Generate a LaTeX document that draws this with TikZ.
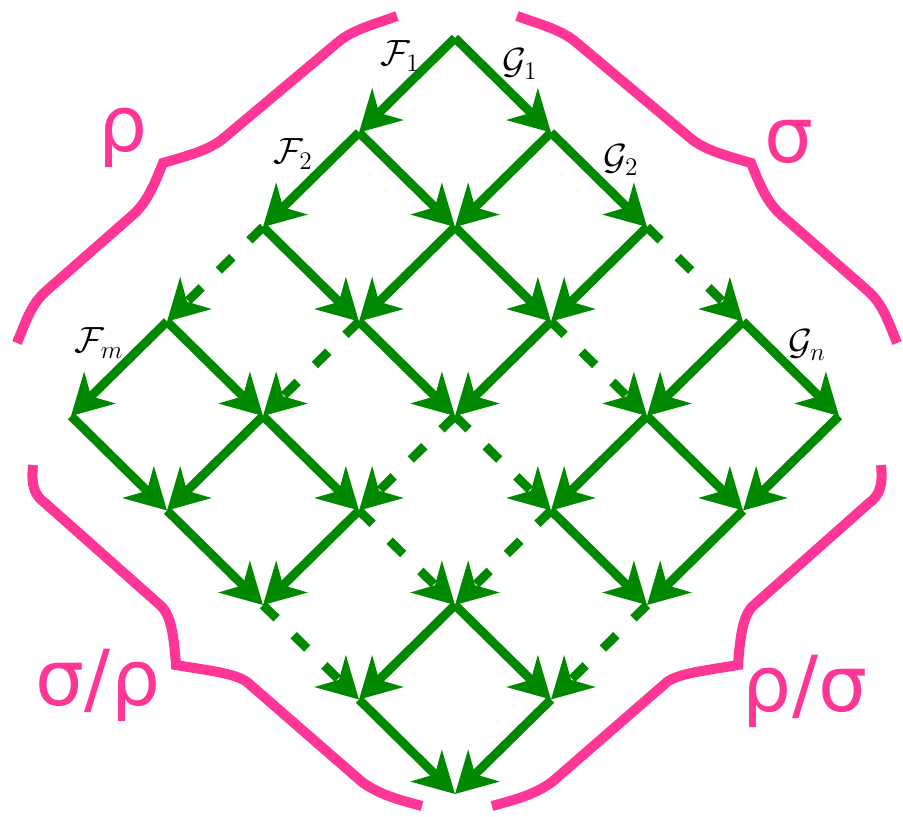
\documentclass[tikz,border=0pt]{standalone}
\usepackage{fontspec}
\newfontfamily\greekfont{DejaVu Sans}
\usetikzlibrary{arrows.meta}
\definecolor{lattice}{RGB}{0,137,0}
\definecolor{bracepink}{RGB}{255,54,150}

\begin{document}
\begin{tikzpicture}[x=0.02cm, y=-0.02cm,
    arr/.style={-{Stealth[length=22.8pt, width=25pt, inset=6.8pt]}, line width=5.1pt, draw=lattice},
    darr/.style={arr, dash pattern=on 10.8pt off 13.7pt},
    brc/.style={draw=bracepink, line width=5.7pt, line join=miter},
    mlbl/.style={font=\fontsize{20}{22}\selectfont, inner sep=0pt},
    glbl/.style={text=bracepink, font=\greekfont\fontsize{44}{48}\selectfont, inner sep=0pt}
  ]
  \useasboundingbox (0,0) rectangle (903,816);

  % lattice points
  \foreach \i in {0,...,4}
    \foreach \j in {0,...,4}
      \coordinate (v\i\j) at ({455-96*\i+96*\j}, {38+94.5*(\i+\j)});

  % down-left and down-right edges, third step dashed
  \foreach \i in {0,...,4}
    \foreach \j in {0,...,4} {
      \pgfmathtruncatemacro{\ni}{\i+1}
      \pgfmathtruncatemacro{\nj}{\j+1}
      \ifnum\i=2 \def\lsty{darr}\else\def\lsty{arr}\fi
      \ifnum\j=2 \def\rsty{darr}\else\def\rsty{arr}\fi
      \ifnum\i<4 \draw[\lsty] (v\i\j) -- (v\ni\j); \fi
      \ifnum\j<4 \draw[\rsty] (v\i\j) -- (v\i\nj); \fi
    }

  % edge labels
  \node[mlbl] (f1) at (400,56)  {$\mathcal{F}_1$};
  \node[mlbl] (f2) at (293,154) {$\mathcal{F}_2$};
  \node[mlbl] (fm) at (99,343)  {$\mathcal{F}_m$};
  \node[mlbl] (g1) at (520,64)  {$\mathcal{G}_1$};
  \node[mlbl] (g2) at (621,160) {$\mathcal{G}_2$};
  \node[mlbl] (gn) at (807,345) {$\mathcal{G}_n$};

  % braces, left ones mirrored to the right
  \foreach \s in {1,-1} {
    \begin{scope}[shift={({457-457*\s},0)}, xscale=\s]
      \draw[brc] (17,343) .. controls (27,318) and (32,304) .. (45,292)
        -- (135,213) .. controls (148,200) and (154,185) .. (163,163)
        .. controls (190,155) and (210,150) .. (225,137)
        -- (337,43) .. controls (352,30) and (372,25) .. (397,16);
      \draw[brc] (33,465) .. controls (31,485) and (34,495) .. (45,503)
        -- (160,605) .. controls (172,615) and (174,640) .. (176,665)
        .. controls (205,670) and (235,673) .. (247,682)
        -- (362,782) .. controls (380,795) and (400,800) .. (422,806);
    \end{scope}
  }

  \node[glbl] (rho)   at (123,138) {ρ};
  \node[glbl] (sigma) at (789,142) {σ};
  \node[glbl] (sr)    at (98,685)  {σ/ρ};
  \node[glbl] (rs)    at (805,691) {ρ/σ};
\end{tikzpicture}
\end{document}
